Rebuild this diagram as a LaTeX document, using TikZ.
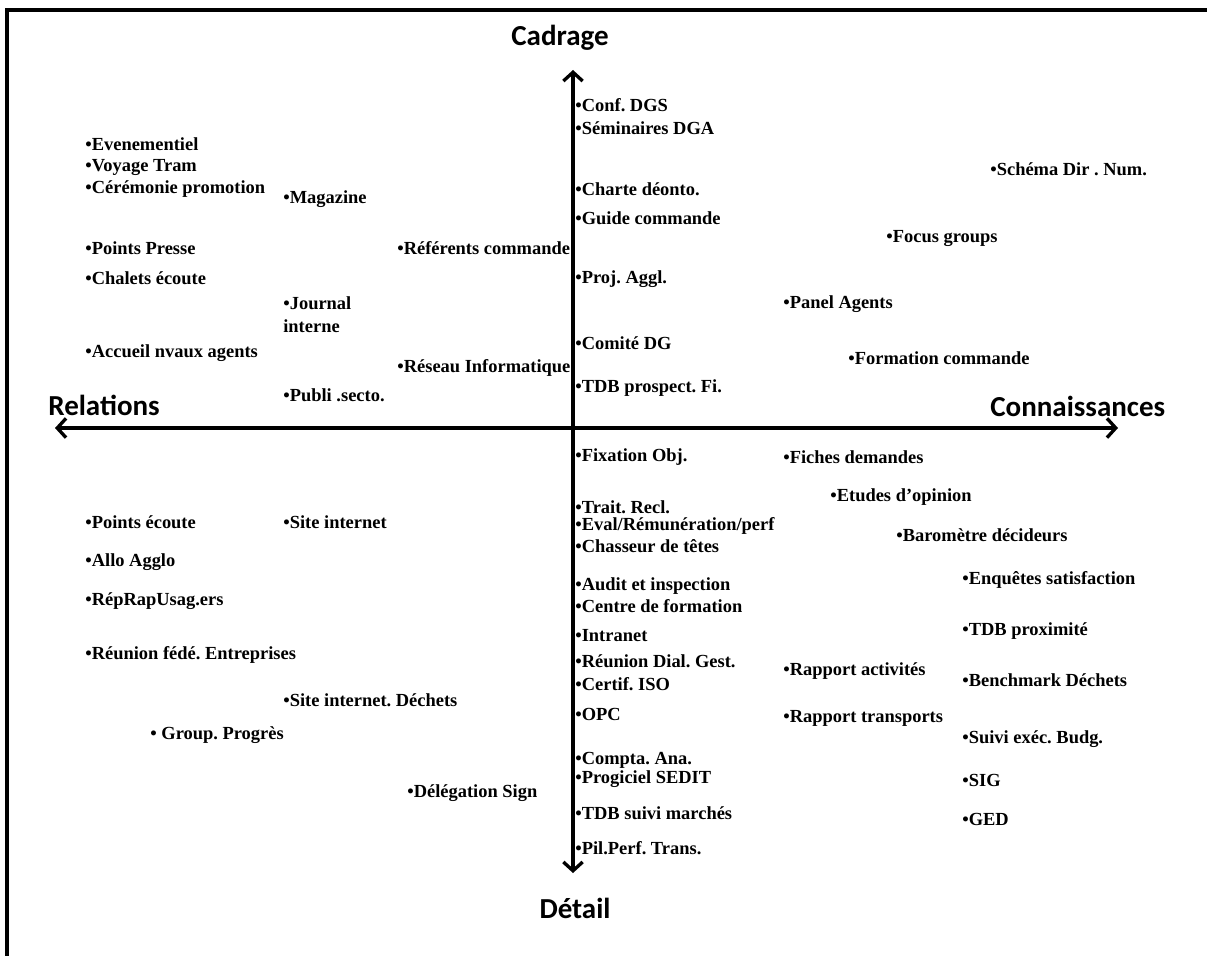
\documentclass[tikz,border=0pt]{standalone}
\usepackage{fontspec}
\setmainfont{Liberation Serif}
\newfontfamily\axisfont{Carlito}
\usetikzlibrary{arrows.meta,positioning}
\frenchspacing

\tikzset{
  item/.style={anchor=west, inner sep=0pt, font=\bfseries\fontsize{10.5}{13}\selectfont},
  axislabel/.style={inner sep=0pt, font=\axisfont\bfseries\fontsize{16.5}{20}\selectfont},
  axis/.style={line width=1.9pt, {Straight Barb[length=5pt,width=11pt]}-{Straight Barb[length=5pt,width=11pt]}}
}

\begin{document}
\begin{tikzpicture}[x=0.02cm, y=-0.02cm]
	\useasboundingbox (0,0) rectangle (1207,956);
	% frame
	\draw[line width=1.9pt] (7,956) -- (7,10) -- (1207,10);

	% axes
	\coordinate (west) at (55,428);
	\coordinate (east) at (1118,428);
	\coordinate (north) at (573,70);
	\coordinate (south) at (573,873);
	\draw[axis] (west) -- (east);
	\draw[axis] (north) -- (south);

	\node[axislabel] (cadrage) at (560,38) {Cadrage};
	\node[axislabel] (detail) at (575,908) {Détail};
	\node[axislabel, anchor=west] (relations) at (48,405) {Relations};
	\node[axislabel, anchor=west] (connaissances) at (990,406) {Connaissances};

	% top left
	\node[item] (evenement) at (85,144) {•Evenementiel};
	\node[item] (voyage) at (85,167) {•Voyage Tram};
	\node[item] (ceremonie) at (85,189) {•Cérémonie promotion};
	\node[item] (magazine) at (283,199) {•Magazine};
	\node[item] (presse) at (85,248) {•Points Presse};
	\node[item] (chalets) at (85,278) {•Chalets écoute};
	\node[item, align=left] (journal) at (283,315) {•Journal\\interne};
	\node[item] (accueil) at (85,353) {•Accueil nvaux agents};
	\node[item] (publi) at (283,395) {•Publi .secto.};
	\node[item] (referents) at (397,248) {•Référents commande};
	\node[item] (reseau) at (397,368) {•Réseau Informatique};

	% top centre
	\node[item] (confdgs) at (575,105) {•Conf. DGS};
	\node[item] (seminaires) at (575,128) {•Séminaires DGA};
	\node[item] (charte) at (575,189) {•Charte déonto.};
	\node[item] (guide) at (575,218) {•Guide commande};
	\node[item] (projaggl) at (575,279) {•Proj. Aggl.};
	\node[item] (comite) at (575,343) {•Comité DG};
	\node[item] (tdbprosp) at (575,388) {•TDB prospect. Fi.};

	% top right
	\node[item] (schema) at (990,169) {•Schéma Dir . Num.};
	\node[item] (focus) at (886,238) {•Focus groups};
	\node[item] (panel) at (783,304) {•Panel Agents};
	\node[item] (formation) at (848,358) {•Formation commande};

	% bottom left
	\node[item] (pointsecoute) at (85,522) {•Points écoute};
	\node[item] (site) at (283,522) {•Site internet};
	\node[item] (allo) at (85,562) {•Allo Agglo};
	\node[item] (reprap) at (85,601) {•RépRapUsag.ers};
	\node[item] (federation) at (85,655) {•Réunion fédé. Entreprises};
	\node[item] (sitedechets) at (283,700) {•Site internet. Déchets};
	\node[item] (progres) at (150,735) {• Group. Progrès};
	\node[item] (delegation) at (407,793) {•Délégation Sign};

	% bottom centre
	\node[item] (fixation) at (575,457) {•Fixation Obj.};
	\node[item] (trait) at (575,507) {•Trait. Recl.};
	\node[item] (eval) at (575,526) {•Eval/Rémunération/perf};
	\node[item] (chasseur) at (575,546) {•Chasseur de têtes};
	\node[item] (audit) at (575,586) {•Audit et inspection};
	\node[item] (centre) at (575,606) {•Centre de formation};
	\node[item] (intranet) at (575,636) {•Intranet};
	\node[item] (dialogue) at (575,661) {•Réunion Dial. Gest.};
	\node[item] (iso) at (575,684) {•Certif. ISO};
	\node[item] (opc) at (575,714) {•OPC};
	\node[item] (compta) at (575,760) {•Compta. Ana.};
	\node[item] (sedit) at (575,779) {•Progiciel SEDIT};
	\node[item] (marches) at (575,813) {•TDB suivi marchés};
	\node[item] (pilperf) at (575,848) {•Pil.Perf. Trans.};

	% bottom right
	\node[item] (fiches) at (783,457) {•Fiches demandes};
	\node[item] (etudes) at (830,497) {•Etudes d’opinion};
	\node[item] (barometre) at (896,535) {•Baromètre décideurs};
	\node[item] (enquetes) at (962,580) {•Enquêtes satisfaction};
	\node[item] (tdbprox) at (962,631) {•TDB proximité};
	\node[item] (activites) at (783,671) {•Rapport activités};
	\node[item] (benchmark) at (962,680) {•Benchmark Déchets};
	\node[item] (transports) at (783,718) {•Rapport transports};
	\node[item] (budget) at (962,739) {•Suivi exéc. Budg.};
	\node[item] (sig) at (962,780) {•SIG};
	\node[item] (ged) at (962,819) {•GED};
\end{tikzpicture}
\end{document}
